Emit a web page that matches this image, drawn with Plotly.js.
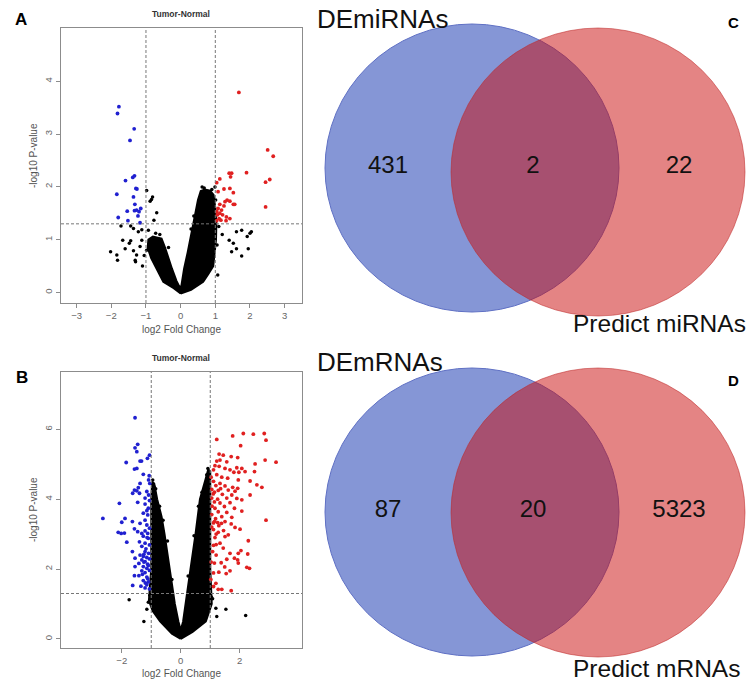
<!DOCTYPE html>
<html>
<head>
<meta charset="utf-8">
<script src="https://cdn.plot.ly/plotly-3.0.1.min.js"></script>
<style>html,body{margin:0;padding:0;background:#fff;}#chart{width:753px;height:684px;}</style>
</head>
<body>
<div id="chart"></div>
<script>
// ---------- DATA ----------
// Panel A (miRNA volcano): log2 fold change / -log10 p-value
const aBlueX = [-1.78,-1.82,-1.34,-1.46,-1.33,-1.38,-1.59,-1.29,-1.26,-1.84,-1.36,-1.32,-1.15,-1.27,-1.54,-1.33,-1.20,-1.23,-1.80,-1.52,-1.17];
const aBlueY = [3.52,3.39,3.10,2.88,2.21,2.18,2.12,1.97,1.96,1.86,1.81,1.67,1.59,1.56,1.54,1.55,1.53,1.45,1.42,1.36,1.32];
const aRedX = [1.68,2.51,2.67,1.90,1.40,1.47,1.44,1.13,2.57,2.45,1.04,1.42,1.25,1.08,1.52,1.34,1.28,1.42,1.52,1.13,1.25,2.45,1.56,1.08,1.18,1.04,1.13,1.06,1.21,1.32,1.11,1.42,1.16,1.04,1.31];
const aRedY = [3.79,2.70,2.58,2.27,2.26,2.26,2.19,2.15,2.14,2.09,2.08,1.97,1.96,1.91,1.89,1.75,1.72,1.73,1.67,1.67,1.64,1.62,1.67,1.59,1.56,1.53,1.50,1.47,1.47,1.43,1.40,1.40,1.37,1.36,1.36];
const aBlackX = [-0.98,-0.84,-0.88,-0.81,-0.69,-0.77,-1.44,-1.72,-1.36,-1.12,-1.22,-0.93,-2.02,-1.84,-1.82,-1.60,-1.67,-1.44,-1.36,-1.31,-1.30,-1.17,-1.12,-1.48,-1.27,1.61,1.76,2.00,2.04,1.92,1.95,1.76,1.47,1.61,1.40,1.07,1.52,0.99,0.77,0.84,1.10,1.20,1.05,-1.05,-1.10,-0.60,-0.72,-0.98,-0.35,0.62,0.68,0.90,1.01,0.30,0.38];
const aBlackY = [1.93,1.76,1.73,1.81,1.51,1.37,1.26,1.26,1.21,1.19,1.15,1.18,0.77,0.71,0.61,0.83,0.99,0.98,0.79,0.61,0.58,0.87,0.99,0.93,0.71,1.15,1.18,1.12,1.15,1.06,0.83,0.69,0.77,0.83,0.99,0.33,0.93,2.00,1.91,1.88,1.25,1.10,0.90,0.70,0.50,1.10,1.12,0.80,0.85,2.00,1.98,1.95,1.75,1.20,1.45];
// dense non-significant cloud outline (panel A)
const aCloudX = [0.00,-0.20,-0.50,-0.69,-0.85,-0.95,-0.93,-0.80,-0.55,-0.45,-0.38,-0.25,-0.12,-0.03,0.02,0.10,0.20,0.27,0.41,0.50,0.58,0.70,0.85,0.95,1.00,1.03,1.02,0.94,0.80,0.65,0.30,0.00];
const aCloudY = [-0.02,0.08,0.20,0.45,0.65,0.85,1.00,1.06,1.02,0.85,0.70,0.45,0.22,0.10,0.12,0.45,0.75,1.00,1.50,1.75,1.92,1.95,1.93,1.85,1.60,1.30,1.00,0.50,0.35,0.20,0.05,-0.02];

// Panel B (mRNA volcano)
const bBlueX = [-1.55,-1.46,-1.55,-1.49,-1.06,-1.13,-1.38,-1.33,-1.85,-1.49,-1.57,-1.27,-1.07,-1.09,-1.38,-1.05,-1.44,-1.57,-1.49,-1.63,-1.40,-1.15,-1.09,-1.21,-1.06,-1.46,-2.08,-1.21,-1.10,-1.15,-1.27,-1.12,-2.64,-1.89,-1.21,-2.00,-1.64,-1.38,-1.15,-1.57,-1.06,-1.21,-2.12,-2.02,-1.91,-1.46,-1.32,-1.12,-1.27,-1.10,-1.83,-1.40,-1.21,-1.06,-1.32,-1.64,-1.21,-1.09,-1.38,-1.27,-1.15,-1.32,-1.06,-1.21,-1.55,-1.42,-1.12,-1.27,-1.55,-1.15,-1.06,-1.32,-1.21,-1.42,-1.57,-1.15,-1.27,-1.09,-1.63,-1.35,-1.21,-1.06,-1.15,-1.18,-1.25,-1.10,-1.30,-1.20,-1.12,-1.25,-1.14];
const bBlueY = [6.33,5.57,5.47,5.36,5.26,5.17,5.09,5.09,5.05,4.88,4.86,4.71,4.67,4.55,4.45,4.45,4.33,4.26,4.24,4.17,4.17,4.22,4.12,4.03,3.96,3.91,3.88,3.86,3.74,3.67,3.60,3.55,3.45,3.45,3.40,3.34,3.36,3.31,3.26,3.15,3.17,3.09,3.05,3.02,3.03,3.07,3.02,3.02,2.94,2.88,2.77,2.78,2.74,2.69,2.65,2.50,2.50,2.45,2.40,2.36,2.33,2.26,2.29,2.21,2.31,2.16,2.14,2.07,2.07,2.02,1.96,1.95,1.90,1.81,1.81,1.77,1.67,1.63,1.53,1.51,1.46,1.43,1.55,2.58,2.20,2.10,1.85,1.60,1.72,2.42,2.90];
const bRedX = [1.22,1.76,2.12,2.46,2.83,2.89,2.03,1.30,1.44,1.71,1.93,1.22,1.33,1.56,2.86,3.23,1.16,1.30,1.50,1.67,1.90,2.07,2.52,2.18,2.50,1.11,1.80,1.97,1.22,1.03,1.39,1.59,1.95,2.35,1.11,1.33,1.19,1.50,1.76,2.58,2.75,1.05,1.27,1.61,1.84,1.93,1.14,1.41,1.73,2.35,1.05,1.25,1.56,1.90,2.07,1.14,1.33,1.67,1.48,1.16,1.82,2.07,1.27,1.56,1.05,1.39,1.73,1.18,2.89,1.50,1.11,1.29,1.84,1.14,1.25,1.38,1.71,2.01,1.11,1.27,1.61,1.50,2.29,1.16,1.33,1.11,1.44,2.04,1.95,2.27,1.67,1.20,1.82,1.93,1.56,1.37,1.14,1.95,2.24,2.33,1.49,1.67,1.29,1.11,1.54,1.19,1.11,1.39,1.27,1.71,1.05,1.08,1.03,1.06,1.20,1.35,1.45,1.02,1.20,1.10];
const bRedY = [5.71,5.81,5.88,5.86,5.88,5.69,5.53,5.29,5.26,5.22,5.19,5.09,5.12,5.07,5.12,5.06,4.96,4.94,4.88,4.84,4.90,4.88,5.01,4.79,4.79,4.84,4.77,4.77,4.70,4.63,4.63,4.60,4.55,4.52,4.51,4.45,4.39,4.38,4.34,4.41,4.34,4.28,4.25,4.26,4.23,4.31,4.20,4.14,4.12,4.12,4.03,4.00,4.03,4.02,3.98,3.92,3.89,3.90,3.79,3.74,3.74,3.66,3.64,3.62,3.56,3.50,3.48,3.44,3.40,3.36,3.32,3.24,3.19,3.36,3.33,3.31,3.29,3.14,3.13,3.05,2.98,2.93,2.81,2.90,2.74,2.68,2.60,2.53,2.45,2.43,2.45,2.40,2.31,2.26,2.28,2.18,2.17,2.17,2.05,2.02,2.06,1.95,1.91,1.89,1.87,1.59,1.50,1.42,1.42,1.38,3.20,2.50,2.20,3.80,3.00,4.30,3.10,1.70,2.70,4.15];
const bBlackX = [-1.75,-1.25,-1.10,-1.15,1.19,1.53,1.22,2.20,1.08,-0.95,-0.90,0.92,0.88,-1.05,1.04,-0.85,-0.72,-0.60,0.60,0.72,0.45,-0.45,0.25,-0.30];
const bBlackY = [1.12,0.50,1.05,0.85,0.88,0.85,0.64,0.67,1.15,4.55,4.35,4.88,4.70,1.25,1.20,4.30,3.80,3.40,3.80,4.20,2.95,2.80,1.80,1.70];
const bCloudX = [0.00,-0.30,-0.70,-0.95,-1.08,-1.05,-1.00,-1.00,-1.00,-0.97,-0.90,-0.80,-0.65,-0.55,-0.38,-0.20,-0.08,0.00,0.08,0.17,0.33,0.50,0.65,0.85,0.93,1.00,1.00,1.00,1.00,1.03,1.05,0.85,0.40,0.00];
const bCloudY = [0.00,0.15,0.50,0.80,1.10,1.40,2.00,3.00,4.00,4.50,4.45,4.00,3.50,3.00,2.00,1.00,0.50,0.25,0.50,1.00,2.00,3.00,4.00,4.60,4.85,4.80,4.00,3.00,2.00,1.40,1.00,0.50,0.20,0.00];

// thresholds
const fcCut = [-1, 1];
const pCut = 1.3;

// Venn diagrams
const vennSetsC = ["DEmiRNAs", "Predict miRNAs"];
const vennCountsC = ["431", "2", "22"];
const vennSetsD = ["DEmRNAs", "Predict mRNAs"];
const vennCountsD = ["87", "20", "5323"];

// ---------- LAYOUT GEOMETRY (pixels) ----------
const W = 753, H = 684;
const FONT = "Liberation Sans, Arial, Helvetica, sans-serif";
const frame = '#8c8c8c';
function px(x){return x/W;}
function py(y){return 1 - y/H;}

const circlesC = {blue:[325,24,619,312], red:[451,28,745,316], cy:167, lab1:[315,19], lab2:[571,324], tag:[733,23]};
const circlesD = {blue:[325,368,619,656], red:[451,368,745,657], cy:511, lab1:[315,362], lab2:[571,668], tag:[733,380]};
const regionX = [388, 533, 679];

const traces = [];
function volcano(xa, ya, cx, cy, kx, ky, bx, by, rx, ry){
  traces.push({x:cx, y:cy, xaxis:xa, yaxis:ya, type:'scatter', mode:'lines', fill:'toself', fillcolor:'#000', line:{color:'#000', width:2}, hoverinfo:'skip'});
  traces.push({x:kx, y:ky, xaxis:xa, yaxis:ya, type:'scatter', mode:'markers', marker:{color:'#000', size:3.5}, hoverinfo:'skip'});
  traces.push({x:bx, y:by, xaxis:xa, yaxis:ya, type:'scatter', mode:'markers', marker:{color:'#2020d0', size:3.8}, hoverinfo:'skip'});
  traces.push({x:rx, y:ry, xaxis:xa, yaxis:ya, type:'scatter', mode:'markers', marker:{color:'#e02020', size:3.8}, hoverinfo:'skip'});
}
volcano('x','y', aCloudX,aCloudY, aBlackX,aBlackY, aBlueX,aBlueY, aRedX,aRedY);
volcano('x2','y2', bCloudX,bCloudY, bBlackX,bBlackY, bBlueX,bBlueY, bRedX,bRedY);

// Venn count labels through the pixel axes
traces.push({x:regionX, y:[circlesC.cy,circlesC.cy,circlesC.cy], text:vennCountsC, xaxis:'x3', yaxis:'y3', type:'scatter', mode:'text', textfont:{family:FONT, size:24, color:'#111'}, hoverinfo:'skip'});
traces.push({x:regionX, y:[circlesD.cy,circlesD.cy,circlesD.cy], text:vennCountsD, xaxis:'x3', yaxis:'y3', type:'scatter', mode:'text', textfont:{family:FONT, size:24, color:'#111'}, hoverinfo:'skip'});

function axisBase(extra){
  return Object.assign({showgrid:false, zeroline:false, showline:true, mirror:true, linecolor:frame, linewidth:1,
    ticks:'outside', ticklen:4, tickcolor:frame, tickfont:{family:FONT, size:9.5, color:'#666'}, fixedrange:true}, extra);
}

const shapes = [];
function cuts(xa, ya){
  fcCut.forEach(v => shapes.push({type:'line', xref:xa, yref:ya+' domain', x0:v, x1:v, y0:0, y1:1, line:{color:'#777', width:1, dash:'3px,2px'}}));
  shapes.push({type:'line', xref:xa+' domain', yref:ya, x0:0, x1:1, y0:pCut, y1:pCut, line:{color:'#777', width:1, dash:'3px,2px'}});
}
cuts('x','y'); cuts('x2','y2');

[circlesC, circlesD].forEach(c => {
  shapes.push({type:'circle', xref:'x3', yref:'y3', layer:'below', x0:c.blue[0], y0:c.blue[1], x1:c.blue[2], y1:c.blue[3], fillcolor:'rgb(133,150,214)', line:{color:'rgb(95,112,196)', width:1}});
  shapes.push({type:'circle', xref:'x3', yref:'y3', layer:'below', x0:c.red[0], y0:c.red[1], x1:c.red[2], y1:c.red[3], fillcolor:'rgba(201,9,9,0.5)', line:{color:'rgba(190,40,40,0.55)', width:1}});
});

const ann = [];
function txt(t, x, y, opts){ ann.push(Object.assign({text:t, x:px(x), y:py(y), xref:'paper', yref:'paper', showarrow:false, xanchor:'center', yanchor:'middle', font:{family:FONT, size:10, color:'#333'}}, opts||{})); }
// panel labels
txt('<b>A</b>', 21, 20, {font:{family:FONT, size:17, color:'#000'}});
txt('<b>B</b>', 21.5, 377, {font:{family:FONT, size:17, color:'#000'}});
txt('<b>C</b>', circlesC.tag[0], circlesC.tag[1], {font:{family:FONT, size:15, color:'#000'}});
txt('<b>D</b>', circlesD.tag[0], circlesD.tag[1], {font:{family:FONT, size:15, color:'#000'}});
// volcano titles and axis titles
txt('<b>Tumor-Normal</b>', 181, 14, {font:{family:FONT, size:8.5, color:'#333'}});
txt('<b>Tumor-Normal</b>', 181, 358, {font:{family:FONT, size:8.5, color:'#333'}});
txt('log2 Fold Change', 181, 329, {font:{family:FONT, size:10, color:'#555'}});
txt('log2 Fold Change', 181, 673, {font:{family:FONT, size:10, color:'#555'}});
txt('-log10 P-value', 33, 156, {textangle:-90, font:{family:FONT, size:10, color:'#555'}});
txt('-log10 P-value', 33, 510, {textangle:-90, font:{family:FONT, size:10, color:'#555'}});
// venn set names
txt(vennSetsC[0], circlesC.lab1[0], circlesC.lab1[1], {xanchor:'left', font:{family:FONT, size:26, color:'#111'}});
txt(vennSetsC[1], circlesC.lab2[0], circlesC.lab2[1], {xanchor:'left', font:{family:FONT, size:24.5, color:'#111'}});
txt(vennSetsD[0], circlesD.lab1[0], circlesD.lab1[1], {xanchor:'left', font:{family:FONT, size:26, color:'#111'}});
txt(vennSetsD[1], circlesD.lab2[0], circlesD.lab2[1], {xanchor:'left', font:{family:FONT, size:24.5, color:'#111'}});

const layout = {
  width:W, height:H, margin:{l:0,r:0,t:0,b:0}, paper_bgcolor:'#fff', plot_bgcolor:'rgba(0,0,0,0)',
  showlegend:false, hovermode:false,
  xaxis: axisBase({domain:[px(61), px(302)], range:[-3.45,3.5], tickvals:[-3,-2,-1,0,1,2,3], anchor:'y'}),
  yaxis: axisBase({domain:[py(303), py(28)], range:[-0.2,5.01], tickvals:[0,1,2,3,4], tickangle:-90, anchor:'x'}),
  xaxis2: axisBase({domain:[px(61), px(302)], range:[-4.06,4.11], tickvals:[-2,0,2], anchor:'y2'}),
  yaxis2: axisBase({domain:[py(648), py(372)], range:[-0.26,7.64], tickvals:[0,2,4,6], tickangle:-90, anchor:'x2'}),
  xaxis3: {domain:[px(300),1], range:[300,W], visible:false, fixedrange:true, anchor:'y3'},
  yaxis3: {domain:[0,1], range:[H,0], visible:false, fixedrange:true, anchor:'x3'},
  shapes: shapes,
  annotations: ann
};

Plotly.newPlot('chart', traces, layout, {staticPlot:true, displayModeBar:false});
</script>
</body>
</html>
